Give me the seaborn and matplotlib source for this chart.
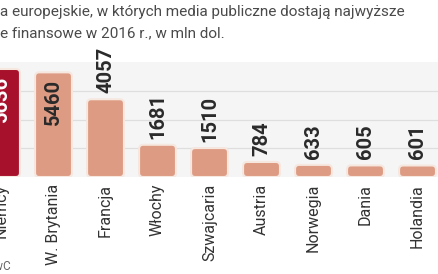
import matplotlib
matplotlib.use("Agg")
import matplotlib.pyplot as plt
import seaborn as sns
from matplotlib.patches import FancyBboxPatch

countries = ["Niemcy", "W. Brytania", "Francja", "Włochy", "Szwajcaria",
             "Austria", "Norwegia", "Dania", "Holandia"]
values = [5636, 5460, 4057, 1681, 1510, 784, 633, 605, 601]
colors = ["#a8112c"] + ["#dd9b83"] * 8
title_lines = ["a europejskie, w których media publiczne dostają najwyższe",
               "e finansowe w 2016 r., w mln dol."]
source = "Źródło: PwC"

sns.set_style("white")
plt.rcParams["font.family"] = ["Roboto", "DejaVu Sans"]

W, H = 439, 274
fig = plt.figure(figsize=(W / 100, H / 100), dpi=100)
ax = fig.add_axes([0, (H - 177) / H, 1, 115 / H])

sns.barplot(x=countries, y=values, hue=countries, palette=colors,
            legend=False, width=0.71, ax=ax)

ax.set_xlim(-0.029, 8.413)
ax.set_ylim(0, 6000)
ax.set_facecolor("#f5f5f5")
for s in ax.spines.values():
    s.set_visible(False)
ax.set_yticks([1500, 3000, 4500])
ax.set_yticklabels([])
ax.tick_params(axis="y", length=0)
ax.yaxis.grid(True, color="#dedede", lw=0.9)
ax.set_axisbelow(True)

# rounded bars
aspect = (52 / 1) / (115 / 6000)
for p, c in zip(list(ax.patches), colors):
    x, w, h = p.get_x(), p.get_width(), p.get_height()
    p.set_visible(False)
    ax.add_patch(FancyBboxPatch((x, 0), w, h,
                                boxstyle="round,pad=0,rounding_size=0.08",
                                mutation_aspect=aspect, fc=c,
                                ec="#f6e7df", lw=1.5, zorder=3))

for i, v in enumerate(values):
    if i == 0:
        ax.annotate(str(v), (i, v), xytext=(0, -5), textcoords="offset points",
                    rotation=90, ha="center", va="top", color="white",
                    fontsize=14.5, fontweight="bold", zorder=4,
                    family=["Liberation Sans Narrow", "Roboto"])
    elif v > 5000:
        ax.annotate(str(v), (i, v), xytext=(0, -4.5), textcoords="offset points",
                    rotation=90, ha="center", va="top", color="#2a2a2a",
                    fontsize=14.5, fontweight="bold", zorder=4,
                    family=["Liberation Sans Narrow", "Roboto"])
    else:
        ax.annotate(str(v), (i, v), xytext=(0, 4.5), textcoords="offset points",
                    rotation=90, ha="center", va="bottom", color="#2a2a2a",
                    fontsize=14.5, fontweight="bold", zorder=4,
                    family=["Liberation Sans Narrow", "Roboto"])

ax.set_xlabel("")
ax.set_xticks(range(len(countries)))
ax.set_xticklabels(countries, rotation=90, fontsize=11.5, color="#333333")
ax.tick_params(axis="x", length=0, pad=5)

fig.text(0, 1 - 12 / H, title_lines[0], va="center", ha="left",
         fontsize=11, color="#4a4a4a")
fig.text(0, 1 - 33 / H, title_lines[1], va="center", ha="left",
         fontsize=11, color="#4a4a4a")
fig.text(11 / W, 8 / H, source, va="center", ha="right",
         fontsize=8.5, color="#666666")

fig.savefig("out.png", dpi=100)
